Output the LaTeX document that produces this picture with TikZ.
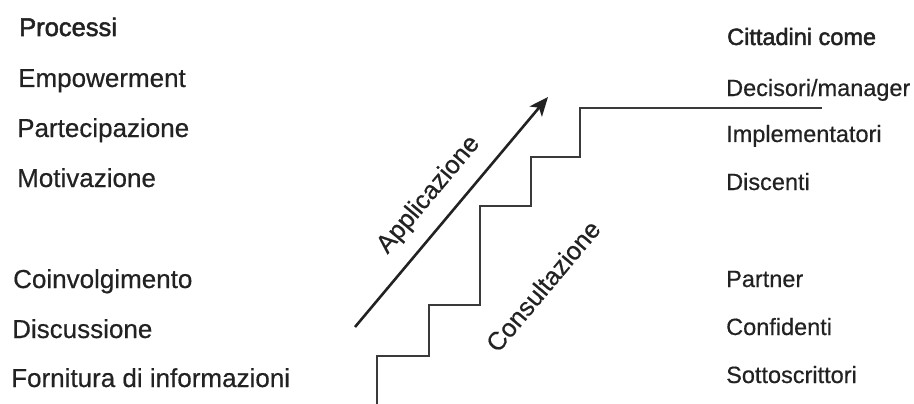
\documentclass[tikz,border=0pt]{standalone}
\usepackage{fontspec}
\setmainfont{Liberation Sans}[FakeBold=0.5]
\newfontfamily\medfont[FakeBold=2]{Liberation Sans}
\usetikzlibrary{arrows.meta}
\definecolor{ink}{HTML}{222222}
\definecolor{stairc}{HTML}{3A3A3A}
\tikzset{
  lefttxt/.style={anchor=base west, inner sep=0pt, text=ink, font=\fontsize{26}{29}\selectfont},
  righttxt/.style={anchor=base west, inner sep=0pt, text=ink, font=\fontsize{23.5}{27}\selectfont},
  headl/.style={lefttxt, font=\fontsize{25.5}{28}\selectfont\medfont},
  headr/.style={righttxt, font=\fontsize{23.5}{27}\selectfont\medfont},
  difftxt/.style={inner sep=0pt, text=ink, rotate=50, font=\fontsize{25.5}{28}\selectfont},
  stairline/.style={draw=stairc, line width=1.4pt},
  arrowline/.style={draw=ink, line width=2.6pt, -{Stealth[length=19pt,width=16pt,inset=5pt]}}
}
\begin{document}
\begin{tikzpicture}[x=1pt,y=-1pt]
\useasboundingbox (0,0) rectangle (914,404);
% left column
\node[headl] (proc) at (19,36) {Processi};
\node[lefttxt] (emp) at (18,87) {Empowerment};
\node[lefttxt] (part) at (17,137) {Partecipazione};
\node[lefttxt] (mot) at (17,187) {Motivazione};
\node[lefttxt] (coin) at (13,288) {Coinvolgimento};
\node[lefttxt] (disc) at (12,338) {Discussione};
\node[lefttxt] (forn) at (11,387) {Fornitura di informazioni};
% right column
\node[headr] (citt) at (727,45) {Cittadini come};
\node[righttxt] (deci) at (726,96) {Decisori/manager};
\node[righttxt] (impl) at (726,142) {Implementatori};
\node[righttxt] (dsc) at (726,190) {Discenti};
\node[righttxt] (partn) at (726,287) {Partner};
\node[righttxt] (conf) at (726,335) {Confidenti};
\node[righttxt] (sott) at (726,383) {Sottoscrittori};
% staircase
\coordinate (s0) at (377,404);
\coordinate (s6) at (822,108);
\draw[stairline] (s0) |- (429,356) |- (480,305) |- (531,206) |- (580,157) |- (s6);
% arrow
\coordinate (a0) at (355,327);
\coordinate (a1) at (548,97);
\draw[arrowline] (a0) -- (a1);
% diagonal labels
\node[difftxt] (appl) at (429,195) {Applicazione};
\node[difftxt] (cons) at (543,286) {Consultazione};
\end{tikzpicture}
\end{document}
